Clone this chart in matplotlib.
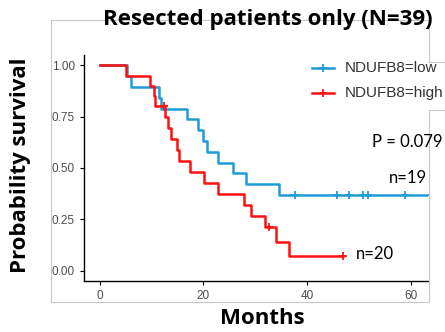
import numpy as np
import matplotlib.pyplot as plt
from matplotlib.lines import Line2D

# follow-up in months, 1 = death, 0 = censored
low_time = [5.3, 6.1, 11.5, 11.8, 16.9, 18.9, 19.9, 20.8, 22.9, 25.8, 28.2, 34.5,
            37.6, 45.8, 48.1, 50.7, 51.8, 58.8, 64.0]
low_event = [1] * 12 + [0] * 7
high_time = [5.1, 9.7, 10.4, 10.6, 12.4, 12.7, 13.1, 13.7, 14.9, 15.3, 17.4, 20.2,
             22.8, 27.9, 29.2, 31.8, 32.6, 34.0, 36.5, 47.0]
high_event = [1, 1, 1, 1, 0, 1, 1, 1, 1, 1, 1, 1, 1, 1, 1, 1, 0, 1, 1, 0]

groups = ["NDUFB8=low", "NDUFB8=high"]
counts = ["n=19", "n=20"]
p_text = "P = 0.079"
x_ticks = [0, 20, 40, 60]
y_ticks = [0, 0.25, 0.5, 0.75, 1.0]

blue = "#1E9CD7"
red = "#FF1010"


def km(times, events):
    order = np.argsort(times)
    t = np.asarray(times)[order]
    e = np.asarray(events)[order]
    n = len(t)
    xs, ys = [0.0], [1.0]
    cx, cy = [], []
    s = 1.0
    for i, (ti, ei) in enumerate(zip(t, e)):
        at_risk = n - i
        if ei:
            s *= (at_risk - 1) / at_risk
            xs.append(ti)
            ys.append(s)
        else:
            cx.append(ti)
            cy.append(s)
    xs.append(t[-1])
    ys.append(s)
    return xs, ys, cx, cy


W, H = 445, 332
fig = plt.figure(figsize=(W / 100, H / 100), dpi=100)


def fx(px):
    return px / W


def fy(py):
    return 1 - py / H


ax = fig.add_axes([fx(84), fy(281), fx(428) - fx(84), fy(55) - fy(281)])

for (t, e), col in zip([(low_time, low_event), (high_time, high_event)], [blue, red]):
    xs, ys, cx, cy = km(t, e)
    ax.step(xs, ys, where="post", color=col, lw=1.8)
    ax.plot(cx, cy, ls="none", marker="+", ms=6, mew=1.3, color=col)

ax.set_xlim(-3, 63.3)
ax.set_ylim(-0.05, 1.05)
ax.set_xticks(x_ticks)
ax.set_yticks(y_ticks)
ax.set_yticklabels([f"{v:.2f}" for v in y_ticks])
ax.tick_params(labelsize=8.5, colors="black", labelcolor="#4d4d4d", length=3, width=0.8)
for lab in ax.get_xticklabels() + ax.get_yticklabels():
    lab.set_family("Liberation Sans")
for side in ["top", "right"]:
    ax.spines[side].set_visible(False)
for side in ["left", "bottom"]:
    ax.spines[side].set_linewidth(1.0)

# gray frame of the pasted plot
g = "#c8c8c8"
frame = [((51, 429), (20, 20)), ((51, 429), (302, 302)), ((51, 51), (20, 302)),
         ((429, 429), (20, 62)), ((429, 429), (110, 302)),
         ((429, 445), (62, 62)), ((429, 445), (110, 110))]
for (x0, x1), (y0, y1) in frame:
    fig.add_artist(Line2D([fx(x0), fx(x1)], [fy(y0), fy(y1)], color=g, lw=0.8))

# legend
for yy, col, lab in zip([68, 93], [blue, red], groups):
    fig.add_artist(Line2D([fx(312), fx(334)], [fy(yy), fy(yy)], color=col, lw=1.8))
    fig.add_artist(Line2D([fx(323)], [fy(yy)], color=col, marker="+", ms=6, mew=1.3))
    fig.text(fx(345), fy(yy), lab, fontsize=11, va="center", ha="left", color="#333333",
             family="Liberation Sans")

fig.text(fx(372), fy(142), p_text, fontsize=12, va="center", ha="left", family="Lato")
fig.text(fx(389), fy(178), counts[0], fontsize=12, va="center", ha="left", family="Lato")
fig.text(fx(356), fy(254), counts[1], fontsize=12, va="center", ha="left", family="Lato")

fig.text(fx(268), fy(19), "Resected patients only (N=39)", fontsize=16, fontweight="bold",
         ha="center", va="center", family="Open Sans")
fig.text(fx(262), fy(318), "Months", fontsize=16, fontweight="bold",
         ha="center", va="center", family="Open Sans")
fig.text(fx(21), fy(165), "Probability survival", fontsize=16, fontweight="bold",
         ha="center", va="center", rotation=90, family="Open Sans")

fig.savefig("out.png", dpi=100)
